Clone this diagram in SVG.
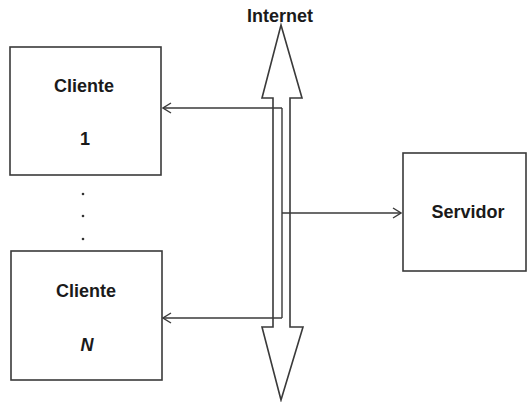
<svg xmlns="http://www.w3.org/2000/svg" width="528" height="402" viewBox="0 0 528 402">
  <defs>
    <style>
      .box { fill: #ffffff; stroke: #3a3a3a; stroke-width: 1.6; }
      .line { fill: none; stroke: #3a3a3a; stroke-width: 1.4; }
      .label { font-family: "Liberation Sans", Arial, sans-serif; font-size: 18px; font-weight: bold; fill: #1a1a1a; text-anchor: middle; dominant-baseline: central; }
      .dot { fill: #333333; }
    </style>
    <marker id="open-arrow" markerWidth="10" markerHeight="12" refX="9" refY="6" orient="auto" markerUnits="userSpaceOnUse">
      <path d="M1,1 L9,6 L1,11" fill="none" stroke="#3a3a3a" stroke-width="1.4"/>
    </marker>
  </defs>

  <rect width="528" height="402" fill="#ffffff"/>

  <!-- Internet backbone: double-headed block arrow -->
  <g id="internet">
    <polygon class="box" points="281,25 302,98 290,98 290,327 303,327 281,400 262,327 273,327 273,98 262,98"/>
    <text class="label" x="280" y="16">Internet</text>
  </g>

  <!-- Clients -->
  <g id="cliente-1">
    <rect class="box" x="10" y="47" width="151" height="128"/>
    <text class="label" x="84" y="86">Cliente</text>
    <text class="label" x="85" y="139">1</text>
  </g>

  <g id="ellipsis">
    <circle class="dot" cx="83" cy="194" r="1.3"/>
    <circle class="dot" cx="83" cy="216" r="1.3"/>
    <circle class="dot" cx="83" cy="239" r="1.3"/>
  </g>

  <g id="cliente-n">
    <rect class="box" x="11" y="251" width="151" height="129"/>
    <text class="label" x="86" y="291">Cliente</text>
    <text class="label" x="87" y="345" font-style="italic">N</text>
  </g>

  <!-- Server -->
  <g id="servidor">
    <rect class="box" x="403" y="153" width="123" height="118"/>
    <text class="label" x="468" y="212">Servidor</text>
  </g>

  <!-- Connectors -->
  <g id="connectors">
    <path class="line" d="M282,213 L282,108"/>
    <path class="line" d="M282,213 L282,318"/>
    <path class="line" d="M282,108 L163,108" marker-end="url(#open-arrow)"/>
    <path class="line" d="M282,318 L163,318" marker-end="url(#open-arrow)"/>
    <path class="line" d="M282,213 L401,213" marker-end="url(#open-arrow)"/>
  </g>
</svg>
